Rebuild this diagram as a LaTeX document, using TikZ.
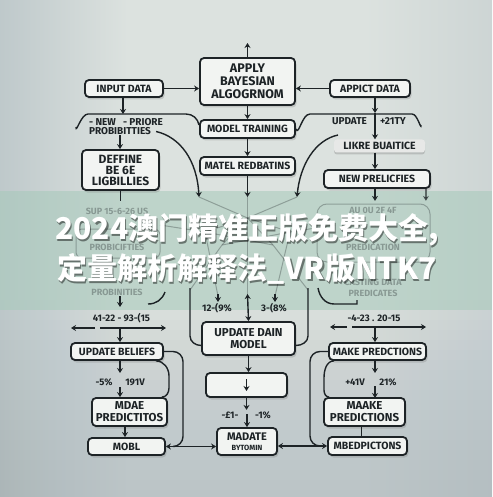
\documentclass[tikz,border=0pt]{standalone}
\usepackage{fontspec}
\setsansfont{Fira Sans}
\newfontfamily\cjkfont{Noto Sans CJK SC}
\usetikzlibrary{arrows.meta,shadows}
\definecolor{ink}{HTML}{1D2326}
\definecolor{boxfill}{HTML}{F2F4F2}
\definecolor{c0}{HTML}{8797A2}
\definecolor{c1}{HTML}{B3BFC3}
\definecolor{c2}{HTML}{DCE2DF}
\definecolor{c3}{HTML}{C3CCCD}
\definecolor{c4}{HTML}{A3AFB6}
\definecolor{bandcol}{HTML}{A6C9BA}
\definecolor{botcol}{HTML}{98A4AB}
\pgfdeclarehorizontalshading{bgh}{100bp}{color(0bp)=(c0); color(20bp)=(c1); color(38bp)=(c2); color(62bp)=(c2); color(84bp)=(c3); color(100bp)=(c4)}
\begin{document}
\begin{tikzpicture}[x=1pt,y=-1pt,
  box/.style={draw=ink, line width=1.8pt, rounded corners=4pt, fill=boxfill, text=ink,
    font=\sffamily\bfseries\fontsize{10.5}{11}\selectfont, align=center, inner sep=0pt,
    drop shadow={opacity=0.3, shadow xshift=1.5pt, shadow yshift=-2.5pt}},
  wh/.style 2 args={minimum width=#1pt, minimum height=#2pt},
  two/.style={font=\sffamily\bfseries\fontsize{11.5}{12}\selectfont},
  faintbox/.style={fill=boxfill!90!gray, text=ink, rounded corners=3pt, inner sep=0pt,
    font=\sffamily\bfseries\fontsize{10.5}{11}\selectfont,
    drop shadow={opacity=0.35, shadow xshift=0pt, shadow yshift=-2pt}},
  lbl/.style={font=\sffamily\bfseries\fontsize{9.5}{10}\selectfont, text=ink, inner sep=0pt},
  ghost/.style={font=\sffamily\bfseries\fontsize{9}{10}\selectfont, text=ink, opacity=0.33, inner sep=0pt},
  ln/.style={draw=ink, line width=1.4pt},
  arr/.style={ln, -{Stealth[length=5pt,width=6pt]}},
  dbl/.style={ln, {Stealth[length=5pt,width=6pt]}-{Stealth[length=5pt,width=6pt]}},
  gl/.style={draw=ink, line width=1pt, opacity=0.3},
  captxt/.style={font=\cjkfont\bfseries\fontsize{30}{34}\selectfont, inner sep=0pt}]
\useasboundingbox (0,0) rectangle (492,497);
% background
\shade[shading=bgh] (0,0) rectangle (492,497);
\foreach \i in {0,...,19} \fill[botcol, opacity=0.025] (0,{300+\i*10}) rectangle (492,497);
\fill[bandcol, opacity=0.55] (0,191) rectangle (492,310);

% ---------- top part ----------
\node[box, wh={95}{47}, font=\sffamily\bfseries\fontsize{12.5}{13}\selectfont] (apply) at (247.5,81.5) {APPLY\\BAYESIAN\\ALGOGRNOM};
\node[box, wh={78}{17}] (inp) at (124,88.5) {INPUT DATA};
\node[box, wh={95}{18}] (mt) at (247.5,129) {MODEL TRAINING};
\node[box, wh={95}{18}] (mr) at (247.5,166) {MATEL REDBATINS};
\node[box, wh={80}{17}] (appict) at (370,88.5) {APPICT DATA};
\node[faintbox, minimum width=91pt, minimum height=13pt] (likre) at (379.5,146) {LIKRE BUAITICE};
\node[box, wh={106}{18}] (newp) at (377,179) {NEW PRELICFIES};
\node[box, wh={77}{40}, font=\sffamily\bfseries\fontsize{12}{11}\selectfont] (define) at (120.5,170) {DEFFINE\\BE 6E\\LIGBILLIES};

\node[lbl, font=\sffamily\bfseries\fontsize{10}{10}\selectfont] (bl1) at (126,122) {- NEW\ \ \ - PRIORE};
\node[lbl, font=\sffamily\bfseries\fontsize{10}{10}\selectfont] (bl2) at (120,131.5) {PROBIBITTIES};
\node[lbl, font=\sffamily\bfseries\fontsize{10}{10}\selectfont] (ur1) at (349.5,121) {UPDATE};
\node[lbl, font=\sffamily\bfseries\fontsize{10}{10}\selectfont] (ur2) at (393,121) {+21TY};

\coordinate (topc) at (247.5,43);
\coordinate (mrd) at (247.5,197);
\coordinate (bM) at (123,114);
\coordinate (bR) at (375,113);
\coordinate (cLend) at (199,197);
\coordinate (cRstart) at (338,135);
\coordinate (cRend) at (297,197);

\draw[arr] (inp.east) -- (inp.east -| apply.west);
\draw[arr] (appict.west) -- (appict.west -| apply.east);
\draw[arr] (apply.north) -- (topc);
\draw[arr] (apply.south) -- (mt.north);
\draw[arr] (mt.south) -- (mr.north);
\draw[arr] (mr.south) -- (mrd);
% left brace
\draw[ln] (76,127) to[out=-90,in=180] (88,114) -- (186,114) to[out=0,in=100] (199,125);
\draw[arr] (inp.south -| bM) -- (bM);
\draw[arr] (bl2.south) -- (bl2.south |- define.north);
\draw[arr] ([xshift=5pt]bl2.east) .. controls (180,137) and (197,160) .. (cLend);
% right brace
\draw[ln] (mt.east) to[out=-70,in=180] (310,114) -- (412,114) to[out=0,in=-90] (421,125);
\draw[arr] (appict.south -| bR) -- (bR);
\draw[arr] (bR) -- (bR |- likre.north);
\draw[arr] (likre.south -| bR) -- (bR |- newp.north);
\draw[arr] (cRstart) .. controls (315,140) and (300,165) .. (cRend);
\draw[arr] (newp.south -| bR) -- ++(0,12);
\draw[arr, opacity=0.6] ([xshift=-5pt]newp.south east) -- ++(0,12);
\draw[ln] (define.south) -- ++(0,10);

% ---------- faded band content ----------
\draw[gl, rounded corners=6pt] (76,229) rectangle (160,258);
\draw[gl, rounded corners=10pt] (317,204) rectangle (430,262);
\node[ghost] (g1) at (117,211) {SUP 15-6-26 US};
\node[ghost] (g2) at (117,247) {PROBICIFTIES};
\node[ghost] (g3) at (117,292) {PROBINITIES};
\node[ghost] (g4) at (373,210) {AU 0U 2F 4F};
\node[ghost] (g5) at (373,247) {PREDICATION};
\node[ghost] (g6) at (373,282) {CASTING DATA};
\node[ghost] (g7) at (373,293) {PREDICATES};
\coordinate (hub) at (247.5,218);
\draw[gl] (cLend) -- (hub) -- (cRend);
\draw[gl] (mrd) -- (247.5,296);
\draw[gl] (205,232) -- (hub) -- (290,232);
\draw[gl] (190,290) -- (222,245) -- (hub);
\draw[gl] (308,290) -- (273,245) -- (hub);
\draw[gl] (160,225) -- (205,232) -- (218,296);
\draw[gl] (335,225) -- (290,232) -- (275,296);
\draw[gl] (205,232) -- (273,245);
\draw[gl] (290,232) -- (222,245);

% caption
\node[captxt, text=black, opacity=0.45] at (248.5,231.5) {2024澳门精准正版免费大全,};
\node[captxt, text=white] (cap1) at (247,229.5) {2024澳门精准正版免费大全,};
\node[captxt, text=black, opacity=0.45] at (248.5,270.5) {定量解析解释法\_VR版NTK7};
\node[captxt, text=white] (cap2) at (247,268.5) {定量解析解释法\_VR版NTK7};

% ---------- bottom part ----------
\node[box, wh={92}{17}] (ub) at (117,351.5) {UPDATE BELIEFS};
\node[box, wh={75}{28}, two] (mdae) at (129.5,412) {MDAE\\PREDICTITOS};
\node[box, wh={77}{17}] (mobl) at (126.5,446.5) {MOBL};
\node[box, wh={93}{33}, two] (udm) at (248.5,338.5) {UPDATE DAIN\\MODEL};
\node[box, wh={81}{24}] (ab) at (246.5,385) {};
\node[box, wh={60}{27}, font=\sffamily\bfseries\fontsize{11}{9.5}\selectfont] (madate) at (247,441.5) {MADATE\\{\fontsize{7.5}{8}\selectfont BYTOMIN}};
\node[box, wh={97}{17}] (mp) at (377.5,351.5) {MAKE PREDCTIONS};
\node[box, wh={81}{28}, two] (maake) at (364.5,412) {MAAKE\\PREDICTIONS};
\node[box, wh={79}{18}] (mbed) at (367.5,446) {MBEDPICTONS};

\node[lbl] (t1) at (121.5,318) {41-22 - 93-(15};
\node[lbl] (t2) at (104,382) {-5\%};
\node[lbl] (t3) at (135,382) {191V};
\node[lbl] (t4) at (217,308) {12-(9\%};
\node[lbl] (t5) at (274,308) {3-(8\%};
\node[lbl] (t6) at (230,415) {-£1-};
\node[lbl] (t7) at (263,415) {-1\%};
\node[lbl] (t8) at (374,318) {-4-23 . 20-15};
\node[lbl] (t9) at (355,382) {+41V};
\node[lbl] (t10) at (388,382) {21\%};

% left column connectors
\coordinate (lt) at (120,296);
\coordinate (hl) at (120,328);
\coordinate (hlL) at (71,328);
\coordinate (hlR) at (166,328);
\coordinate (m1) at (120,373);
\draw[arr] (lt) -- ++(0,11);
\draw[arr] ([xshift=-25pt]hl) -- (hlL);
\draw[arr] ([xshift=-20pt]hl) -- (hlR);
\draw[arr] (hl) -- (hl |- ub.north);
\draw[arr] (ub.south -| m1) -- (m1);
\draw[arr] ([yshift=-14pt]m1) -- (m1 |- mdae.north);
\draw[ln] ([xshift=-8pt]ub.south east) to[out=0,in=90] (169,376) -- (169,388) to[out=-90,in=0] ([xshift=-6pt]mdae.north east);
\draw[arr] ([xshift=-4.5pt]mdae.south) -- ([xshift=-4.5pt]mdae.south |- mobl.north);
\draw[ln, rounded corners=10pt] (ub.east) -- (183,351.5) -- (183,446.5) -- (mobl.east -| 175,0);
\draw[dbl] (mobl.east) -- (mobl.east -| madate.west);
\draw[ln] (148,304) to[out=0,in=-110] (165,292);

% center connectors
\draw[arr] (218,294) -- (218,302);
\draw[arr] (275,294) -- (275,302);
\draw[dbl] (247.5,294) -- (udm.north);
\draw[ln] (190,288) -- (190,336) to[out=-90,in=180] ([yshift=-7pt]udm.west);
\draw[ln] (308,288) -- (308,336) to[out=-90,in=0] ([yshift=-7pt]udm.east);
\draw[arr] (udm.south) -- (udm.south |- ab.north);
\draw[arr] ([yshift=6pt]ab.center) -- ([yshift=-6pt]ab.center);
\draw[arr] (ab.south) -- ++(0,12);
\draw[arr] ([yshift=13pt]madate.north) -- (madate.north);
\draw[dbl] (madate.east |- mbed.west) -- (mbed.west);

% right column connectors
\coordinate (rh) at (375,327);
\draw[arr] (347,327) -- (330,327);
\draw[arr] (352,327) -- (426,327);
\draw[arr] (rh) -- (rh |- mp.north);
\draw[ln] (318,288) to[out=-80,in=180] (334,304) -- (357,304) -- (357,300);
\draw[arr] (mp.south -| rh) -- (375,373);
\draw[arr] (375,386) -- (375 ,398);
\draw[ln] ([xshift=6pt]mp.south west) to[out=180,in=90] (324,378) -- (324,390) to[out=-90,in=180] ([xshift=6pt]maake.north west);
\draw[ln] ([xshift=-3pt]maake.south) -- ([xshift=-3pt]maake.south |- mbed.north);
\draw[ln, rounded corners=10pt] (mp.west) -- (310,351.5) -- (310,446) -- (318,446);
\end{tikzpicture}
\end{document}
